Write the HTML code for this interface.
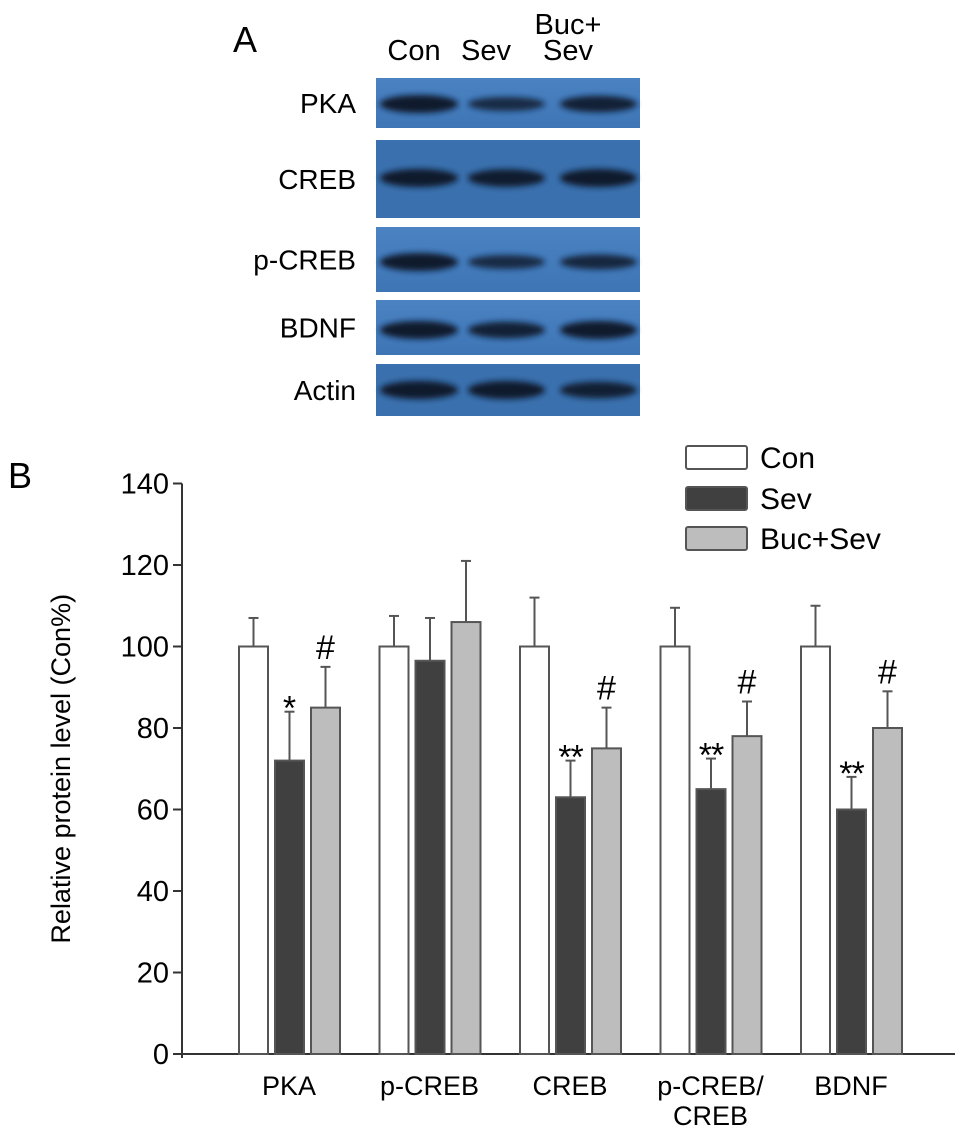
<!DOCTYPE html>
<html><head><meta charset="utf-8">
<style>
html,body{margin:0;padding:0;background:#fff;}
svg{display:block;font-family:"Liberation Sans",Arial,sans-serif;}
</style></head>
<body>
<svg width="969" height="1144" viewBox="0 0 969 1144">
<defs>
<filter id="blur" x="-20%" y="-50%" width="140%" height="200%"><feGaussianBlur stdDeviation="3"/></filter>
<linearGradient id="blot" x1="0" y1="0" x2="0" y2="1"><stop offset="0" stop-color="#4a82c2"/><stop offset="1" stop-color="#3d75b5"/></linearGradient>
</defs>
<g id="panelA">
<text x="233" y="52" font-size="36">A</text>
<text x="414" y="60" font-size="29" text-anchor="middle">Con</text>
<text x="486" y="60" font-size="29" text-anchor="middle">Sev</text>
<text x="568" y="34" font-size="29" text-anchor="middle">Buc+</text>
<text x="568" y="60" font-size="29" text-anchor="middle">Sev</text>
</g>
<g id="chart"></g>
<text x="8" y="488" font-size="36">B</text>
</svg>
<script>
const NS="http://www.w3.org/2000/svg";
const svg=document.querySelector('svg');
const pa=document.getElementById('panelA');
function mk(tag,attrs,parent){const e=document.createElementNS(NS,tag);for(const k in attrs)e.setAttribute(k,attrs[k]);(parent||svg).appendChild(e);return e;}

// Blot panels
const blotNames=["PKA","CREB","p-CREB","BDNF","Actin"];
const blotTop=[78,140,227,300,364];
const blotBot=[128,218,292,355,416];
const bandY=[104,178,262,330,390];
const bandInt=[[1,0.6,0.85],[1,0.95,1],[1,0.6,0.7],[1,0.85,1],[1,1,0.85]];
const laneX=[[380,458],[468,545],[560,637]];
for(let i=0;i<blotNames.length;i++){
  const r=mk('rect',{x:376,y:blotTop[i],width:264,height:blotBot[i]-blotTop[i],fill:i===1||i===4?'#3a70ad':'url(#blot)'},pa);
  
  
  for(let j=0;j<3;j++){
    const b=mk('ellipse',{cx:(laneX[j][0]+laneX[j][1])/2,cy:bandY[i],rx:(laneX[j][1]-laneX[j][0])/2,ry:4+5*bandInt[i][j],fill:'#0b1826',opacity:0.55+0.4*bandInt[i][j],filter:'url(#blur)'},pa);
    
    
  }
  const t=mk('text',{x:356,y:(blotTop[i]+blotBot[i])/2+10,'font-size':28,'text-anchor':'end'},pa);
  t.textContent=blotNames[i];
  
  
}

// Chart data
const categories=["PKA","p-CREB","CREB","p-CREB/|CREB","BDNF"];
const seriesNames=["Con","Sev","Buc+Sev"];
const conVals=[100,100,100,100,100];
const sevVals=[72,96.5,63,65,60];
const bucVals=[85,106,75,78,80];
const conErr=[7,7.5,12,9.5,10];
const sevErr=[12,10.5,9,7.5,8];
const bucErr=[10,15,10,8.5,9];
const sevMarks=["*","","**","**","**"];
const bucMarks=["#","","#","#","#"];
const yTicks=[0,20,40,60,80,100,120,140];

const g=document.getElementById('chart');
const y0=1054, yScale=4.075, axisX=182;
const yPos=v=>y0-v*yScale;
const groupX=i=>239+i*140.5;
const barW=29, barStep=36;
const fills=["#ffffff","#404040","#bdbdbd"];
const series=[conVals,sevVals,bucVals];
const errs=[conErr,sevErr,bucErr];

let a=mk('line',{x1:axisX,y1:yPos(140),x2:axisX,y2:y0+4,stroke:'#333','stroke-width':2},g);

a=mk('line',{x1:axisX,y1:y0,x2:955,y2:y0,stroke:'#333','stroke-width':2},g);

yTicks.forEach(v=>{
  const l=mk('line',{x1:axisX-9,y1:yPos(v),x2:axisX,y2:yPos(v),stroke:'#333','stroke-width':2},g);
  
  const t=mk('text',{x:axisX-13,y:yPos(v)+10,'font-size':29,'text-anchor':'end'},g);
  t.textContent=v;
  
});
const yt=mk('text',{x:0,y:0,'font-size':27,'text-anchor':'middle',transform:'translate(70,'+yPos(70)+') rotate(-90)'},g);
yt.textContent='Relative protein level (Con%)';


categories.forEach((c,i)=>{
  for(let s=0;s<3;s++){
    const x=groupX(i)+s*barStep, v=series[s][i], e=errs[s][i];
    const top=yPos(v+e);
    const el=mk('line',{x1:x+barW/2,y1:top,x2:x+barW/2,y2:yPos(v),stroke:'#555','stroke-width':2},g);
    
    const cap=mk('line',{x1:x+barW/2-5,y1:top,x2:x+barW/2+5,y2:top,stroke:'#555','stroke-width':2},g);
    
    const r=mk('rect',{x:x,y:yPos(v),width:barW,height:y0-yPos(v),fill:fills[s],stroke:'#555','stroke-width':2},g);
    
    
    const mark=s===1?sevMarks[i]:s===2?bucMarks[i]:"";
    if(mark){
      const m=mk('text',{x:x+barW/2,y:top-(mark==='#'?8:-8),'font-size':mark==='#'?34:34,'text-anchor':'middle','letter-spacing':mark==='**'?'-1':'0'},g);
      m.textContent=mark;
      
    }
  }
  const parts=c.split('|');
  parts.forEach((p,k)=>{
    const t=mk('text',{x:groupX(i)+50,y:1095+k*30,'font-size':27,'text-anchor':'middle'},g);
    t.textContent=p;
    
  });
});

const legY=[446,487,527];
seriesNames.forEach((n,s)=>{
  const r=mk('rect',{x:686,y:legY[s],width:61,height:23,fill:fills[s],stroke:'#555','stroke-width':2,rx:2},g);
  
  const t=mk('text',{x:760,y:legY[s]+22,'font-size':30},g);
  t.textContent=n;
  
});
</script>
</body></html>
